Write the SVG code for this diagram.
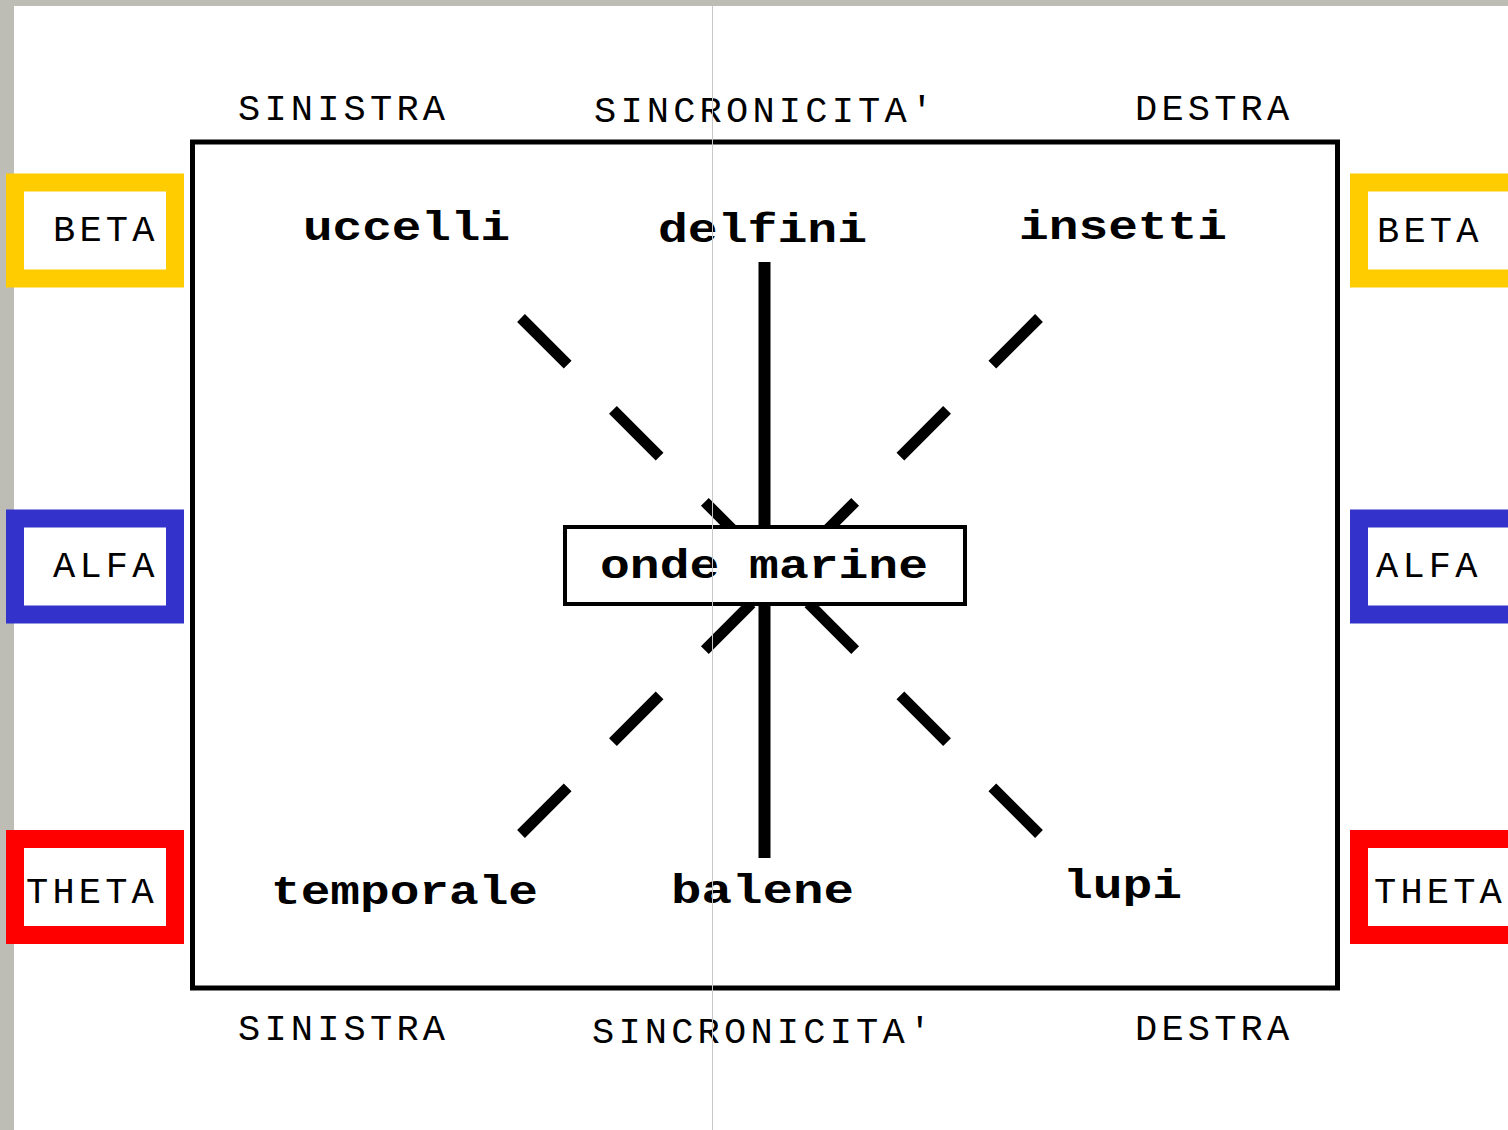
<svg xmlns="http://www.w3.org/2000/svg" width="1508" height="1130" viewBox="0 0 1508 1130">
<style>
.thin{font-family:"Courier New","Liberation Mono",monospace;font-size:37px;letter-spacing:4.2px;fill:#000}
.bold{font-family:"Courier New","Liberation Mono",monospace;font-size:41px;font-weight:bold;fill:#000}
.band{fill:none;stroke-width:18}
.dash{stroke:#000;stroke-width:11;stroke-dasharray:66 64;stroke-linecap:butt;fill:none}
</style>
<rect x="0" y="0" width="1508" height="1130" fill="#ffffff"/>
<rect x="0" y="0" width="1508" height="6" fill="#bdbdb5"/>
<rect x="0" y="0" width="14" height="1130" fill="#bdbdb5"/>

<g id="beta-left"><rect class="band" x="15" y="182.5" width="160" height="96" stroke="#ffcc00"/><text class="thin" x="53" y="241">BETA</text></g>
<g id="alfa-left"><rect class="band" x="15" y="518.5" width="160" height="96" stroke="#3333cc"/><text class="thin" x="53" y="577">ALFA</text></g>
<g id="theta-left"><rect class="band" x="15" y="839" width="160" height="96" stroke="#ff0000"/><text class="thin" x="26" y="903">THETA</text></g>
<g id="beta-right"><rect class="band" x="1359" y="182.5" width="200" height="96" stroke="#ffcc00"/><text class="thin" x="1377" y="242">BETA</text></g>
<g id="alfa-right"><rect class="band" x="1359" y="518.5" width="200" height="96" stroke="#3333cc"/><text class="thin" x="1376" y="577">ALFA</text></g>
<g id="theta-right"><rect class="band" x="1359" y="839" width="200" height="96" stroke="#ff0000"/><text class="thin" x="1374" y="903">THETA</text></g>

<g id="frame"><rect x="192.5" y="142" width="1145" height="846" fill="none" stroke="#000" stroke-width="5"/></g>

<g id="headers">
<text class="thin" x="238" y="120">SINISTRA</text>
<text class="thin" x="594" y="122">SINCRONICITA'</text>
<text class="thin" x="1135" y="120">DESTRA</text>
<text class="thin" x="238" y="1040">SINISTRA</text>
<text class="thin" x="592" y="1043">SINCRONICITA'</text>
<text class="thin" x="1135" y="1040">DESTRA</text>
</g>

<g id="connectors">
<line x1="764.5" y1="262" x2="764.5" y2="858" stroke="#000" stroke-width="12"/>
<line class="dash" x1="521" y1="318" x2="760" y2="557"/>
<line class="dash" x1="1039" y1="318" x2="800" y2="557"/>
<line class="dash" x1="521" y1="834" x2="760" y2="595"/>
<line class="dash" x1="1039" y1="834" x2="800" y2="595"/>
</g>

<g id="uccelli"><text class="bold" x="303" y="240" textLength="207" lengthAdjust="spacingAndGlyphs">uccelli</text></g>
<g id="delfini"><text class="bold" x="658" y="242" textLength="209" lengthAdjust="spacingAndGlyphs">delfini</text></g>
<g id="insetti"><text class="bold" x="1019" y="239" textLength="208" lengthAdjust="spacingAndGlyphs">insetti</text></g>
<g id="temporale"><text class="bold" x="271" y="904" textLength="267" lengthAdjust="spacingAndGlyphs">temporale</text></g>
<g id="balene"><text class="bold" x="671" y="903" textLength="183" lengthAdjust="spacingAndGlyphs">balene</text></g>
<g id="lupi"><text class="bold" x="1063" y="898" textLength="119" lengthAdjust="spacingAndGlyphs">lupi</text></g>

<g id="onde-marine"><rect x="565" y="527" width="400" height="77" fill="#ffffff" stroke="#000" stroke-width="4"/><text class="bold" x="600" y="578" textLength="328" lengthAdjust="spacingAndGlyphs">onde marine</text></g>

<line x1="712.5" y1="6" x2="712.5" y2="1130" stroke="#c8c8c8" stroke-width="1"/>
</svg>
